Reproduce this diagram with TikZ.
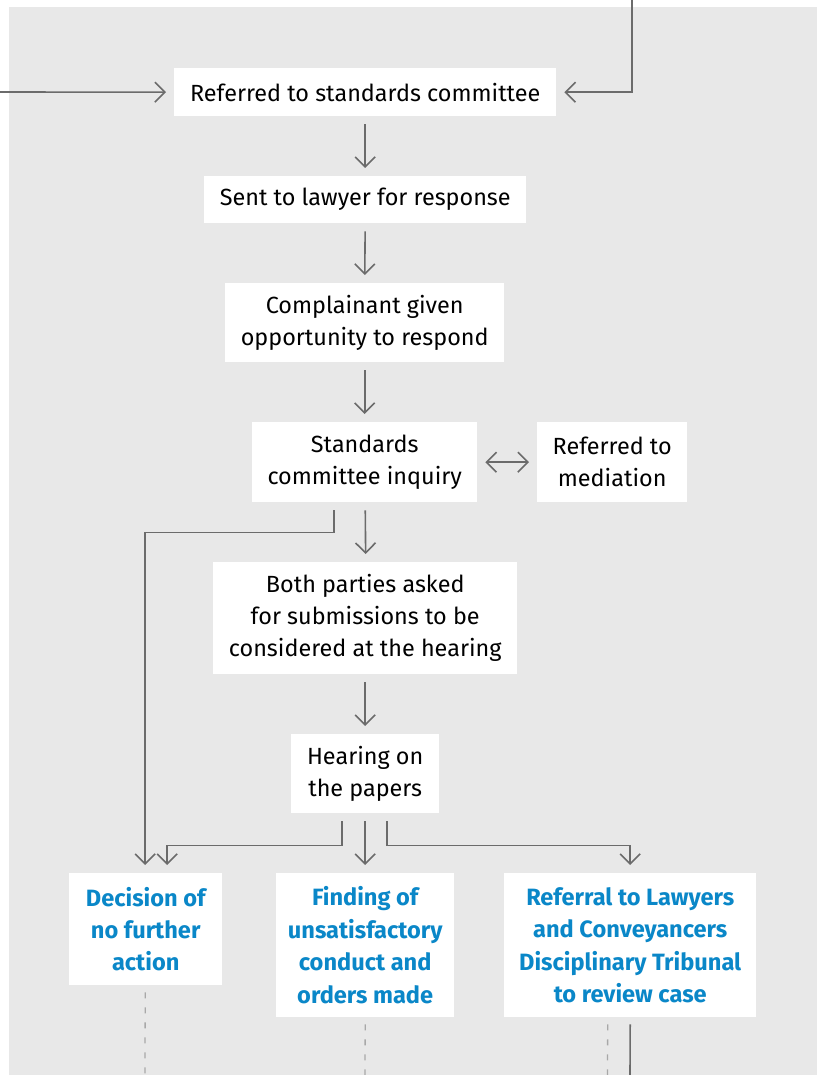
\documentclass[tikz,border=0pt]{standalone}
\usepackage{fontspec}
\setmainfont{Fira Sans}
\usetikzlibrary{arrows.meta,calc}
\definecolor{bggray}{HTML}{E8E8E8}
\definecolor{linegray}{HTML}{6B6B6B}
\definecolor{dashgray}{HTML}{A8A8A8}
\definecolor{outblue}{HTML}{0A87C8}
\tikzset{
  box/.style={fill=white, draw=none, anchor=north west, align=center, inner sep=0pt,
    font=\fontsize{23.4}{32}\selectfont},
  outbox/.style={box, text=outblue, font=\fontsize{23.6}{32.4}\selectfont\bfseries},
  arr/.style={draw=linegray, line width=1.6pt, -{Straight Barb[length=10pt,width=20pt,line width=1.6pt]}},
  darr/.style={draw=linegray, line width=1.6pt, {Straight Barb[length=10pt,width=20pt,line width=1.6pt]}-{Straight Barb[length=10pt,width=20pt,line width=1.6pt]}},
  plain/.style={draw=linegray, line width=1.6pt},
  dashline/.style={draw=dashgray, line width=1.3pt, dash pattern=on 6pt off 9pt}
}
\begin{document}
\begin{tikzpicture}[x=1pt,y=1pt]
\useasboundingbox (0,0) rectangle (817,-1075);
\fill[bggray] (9,-7) rectangle (817,-1075);

\node[box, minimum width=382pt, minimum height=48pt] (n1) at (174,-68) {Referred to standards committee};
\node[box, minimum width=322pt, minimum height=47pt] (n2) at (204,-176) {Sent to lawyer for response};
\node[box, minimum width=279pt, minimum height=79pt] (n3) at (225,-283) {Complainant given\\opportunity to respond};
\node[box, minimum width=225pt, minimum height=80pt] (n4) at (252,-422) {Standards\\committee inquiry};
\node[box, minimum width=150pt, minimum height=80pt] (n5) at (537,-422) {Referred to\\mediation};
\node[box, minimum width=304pt, minimum height=112pt] (n6) at (213,-562) {Both parties asked\\for submissions to be\\considered at the hearing};
\node[box, minimum width=148pt, minimum height=79pt] (n7) at (291,-734) {Hearing on\\the papers};
\node[outbox, minimum width=153pt, minimum height=112pt] (n8) at (69,-873) {Decision of\\no further\\action};
\node[outbox, minimum width=178pt, minimum height=144pt] (n9) at (276,-873) {Finding of\\unsatisfactory\\conduct and\\orders made};
\node[outbox, minimum width=252pt, minimum height=144pt] (n10) at (504,-873) {Referral to Lawyers\\and Conveyancers\\Disciplinary Tribunal\\to review case};

\coordinate (inL) at (0,-92);
\coordinate (inT) at (632,0);
\coordinate (b8) at (145,-1075);
\coordinate (b9) at (365,-1075);
\coordinate (b10a) at (607.5,-1075);
\coordinate (b10b) at (630,-1075);

% incoming
\draw[arr, shorten >=8pt] (inL) -- (n1.west);
\draw[arr, shorten >=8pt] (inT) |- (n1.east);

% main chain
\draw[arr, shorten <=8pt, shorten >=8pt] (n1.south) -- (n2.north);
\draw[arr, shorten <=8pt, shorten >=8pt] (n2.south) -- (n3.north);
\draw[arr, shorten <=8pt, shorten >=8pt] (n3.south) -- (n4.north);
\draw[darr, shorten <=8pt, shorten >=8pt] (n4.east) -- (n5.west);
\draw[arr, shorten <=8pt, shorten >=8pt] ([xshift=0.5pt]n4.south) -- ([xshift=0.5pt]n6.north);
\draw[arr, shorten <=8pt, shorten >=8pt] (n6.south) -- (n7.north);

% inquiry to decision
\draw[arr] ([xshift=-30.5pt,yshift=-8pt]n4.south) -- ++(0,-22) -| ([xshift=-0.5pt,yshift=8pt]n8.north);

% hearing branches
\draw[arr] ([xshift=-23pt,yshift=-8pt]n7.south) -- ++(0,-24) -| ([xshift=21.5pt,yshift=8pt]n8.north);
\draw[arr, shorten <=8pt, shorten >=8pt] (n7.south) -- (n9.north);
\draw[arr] ([xshift=22pt,yshift=-8pt]n7.south) -- ++(0,-24) -| ([yshift=8pt]n10.north);

% bottom exits
\draw[dashline] ([xshift=-0.5pt,yshift=-7pt]n8.south) -- (b8);
\draw[dashline] ([yshift=-7pt]n9.south) -- (b9);
\draw[dashline] ([xshift=-22.5pt,yshift=-7pt]n10.south) -- (b10a);
\draw[plain] ([yshift=-7pt]n10.south) -- (b10b);
\end{tikzpicture}
\end{document}
